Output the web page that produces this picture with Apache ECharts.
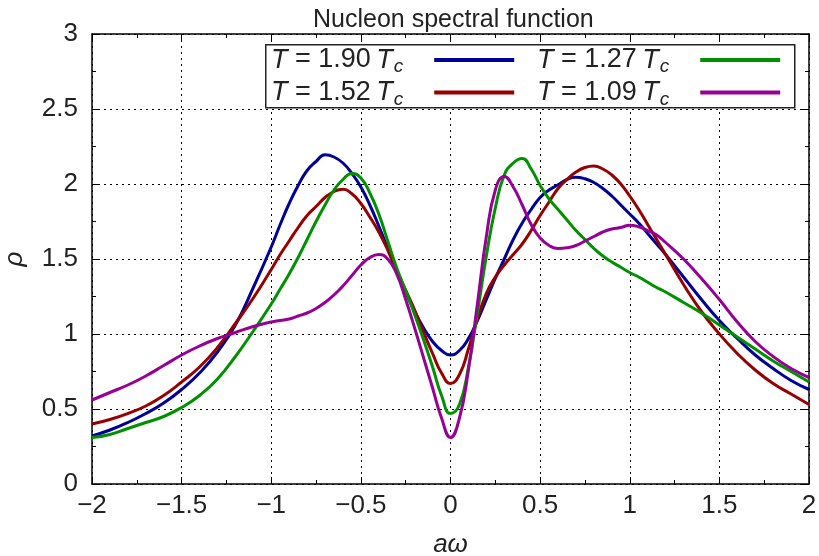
<!DOCTYPE html>
<html><head><meta charset="utf-8">
<script src="https://cdn.jsdelivr.net/npm/echarts@6/dist/echarts.min.js"></script>
<style>html,body{margin:0;padding:0;background:#fff}#c{width:819px;height:556px}</style>
</head><body><div id="c"></div>
<script>
const chartTitle = 'Nucleon spectral function';
const xName = 'aω';
const yName = 'ρ';
const temps = ['1.90', '1.52', '1.27', '1.09'];
const colors = ['#000096', '#960000', '#009000', '#960096'];
const aw = [-2, -1.9, -1.8, -1.7, -1.6, -1.5, -1.4, -1.3, -1.2, -1.1,
  -1.0, -0.95, -0.9, -0.85, -0.8, -0.75, -0.7, -0.65, -0.6, -0.55,
  -0.5, -0.45, -0.4, -0.35, -0.3, -0.25, -0.2, -0.15, -0.1, -0.05,
  0, 0.05, 0.1, 0.15, 0.2, 0.25, 0.3, 0.35, 0.4, 0.45,
  0.5, 0.55, 0.6, 0.65, 0.7, 0.75, 0.8, 0.85, 0.9, 0.95,
  1.0, 1.05, 1.1, 1.15, 1.2,
  1.3, 1.4, 1.5, 1.6, 1.7, 1.8, 1.9, 2.0];
const rho190 = [0.32, 0.36, 0.41, 0.47, 0.54, 0.63, 0.74, 0.88, 1.06, 1.31,
  1.58, 1.73, 1.87, 1.99, 2.09, 2.15, 2.195, 2.18, 2.14, 2.07,
  1.98, 1.86, 1.72, 1.57, 1.42, 1.28, 1.15, 1.04, 0.95, 0.89,
  0.86, 0.89, 0.97, 1.09, 1.23, 1.37, 1.5, 1.63, 1.74, 1.83,
  1.91, 1.96, 1.995, 2.03, 2.045, 2.035, 2.01, 1.97, 1.92, 1.86,
  1.8, 1.74, 1.67, 1.6, 1.53,
  1.38, 1.23, 1.09, 0.97, 0.86, 0.77, 0.69, 0.63];
const rho152 = [0.40, 0.43, 0.47, 0.52, 0.59, 0.68, 0.78, 0.91, 1.07, 1.24,
  1.43, 1.53, 1.62, 1.71, 1.79, 1.85, 1.91, 1.95, 1.965, 1.935,
  1.87, 1.78, 1.68, 1.56, 1.42, 1.29, 1.16, 1.01, 0.87, 0.74,
  0.67, 0.73, 0.9, 1.1, 1.27, 1.38, 1.46, 1.53, 1.6, 1.69,
  1.79, 1.88, 1.97, 2.03, 2.08, 2.11, 2.12, 2.1, 2.06, 2.0,
  1.92, 1.83, 1.73, 1.63, 1.53,
  1.33, 1.15, 1.0, 0.87, 0.76, 0.67, 0.6, 0.53];
const rho127 = [0.31, 0.33, 0.37, 0.41, 0.45, 0.51, 0.59, 0.7, 0.85, 1.02,
  1.2, 1.3, 1.4, 1.51, 1.63, 1.75, 1.86, 1.96, 2.03, 2.07,
  2.04, 1.94, 1.8, 1.62, 1.44, 1.29, 1.13, 0.96, 0.78, 0.59,
  0.47, 0.53, 0.78, 1.14, 1.52, 1.84, 2.06, 2.14, 2.17, 2.1,
  1.99, 1.9, 1.83, 1.76, 1.69, 1.63, 1.57, 1.52, 1.48, 1.445,
  1.41, 1.38, 1.345, 1.31, 1.28,
  1.21, 1.14, 1.06, 0.98, 0.9, 0.82, 0.75, 0.68];
const rho109 = [0.56, 0.61, 0.66, 0.72, 0.79, 0.86, 0.92, 0.97, 1.01, 1.05,
  1.08, 1.09, 1.1, 1.12, 1.14, 1.17, 1.21, 1.26, 1.32, 1.39,
  1.46, 1.51, 1.53, 1.5, 1.4, 1.23, 1.04, 0.84, 0.64, 0.44,
  0.31, 0.44, 0.76, 1.2, 1.65, 1.96, 2.05, 1.98, 1.86, 1.73,
  1.64, 1.59, 1.57, 1.575, 1.59, 1.62, 1.65, 1.68, 1.7, 1.71,
  1.725, 1.715, 1.69, 1.66, 1.61,
  1.5, 1.37, 1.23, 1.08, 0.95, 0.85, 0.77, 0.71];
const xTicks = {min: -2, max: 2, interval: 0.5};
const yTicks = {min: 0, max: 3, interval: 0.5};

const allRho = [rho190, rho152, rho127, rho109];
const FONT = 'Liberation Sans';
const TXT = '#222';
const fmtMinus = v => String(v).replace('-', '\u2212');

const gridLine = {show: true, lineStyle: {color: '#000', width: 1, type: [2, 4]}};
function xAxis(pos, labels) {
  return {
    type: 'value', position: pos, min: xTicks.min, max: xTicks.max, interval: xTicks.interval,
    axisLine: {show: true, onZero: false, lineStyle: {color: '#000', width: 1.5}},
    axisTick: {show: true, inside: true, length: 7, lineStyle: {color: '#000', width: 1}},
    minorTick: {show: true, splitNumber: 2, length: 4, lineStyle: {color: '#000', width: 1}},
    splitLine: labels ? gridLine : {show: false},
    axisLabel: {show: labels, fontFamily: FONT, fontSize: 26, color: TXT, margin: 9, formatter: fmtMinus},
    name: labels ? xName : '', nameLocation: 'middle', nameGap: 48,
    nameTextStyle: {fontFamily: FONT, fontSize: 26, fontStyle: 'italic', color: TXT}
  };
}
function yAxis(pos, labels) {
  return {
    type: 'value', position: pos, min: yTicks.min, max: yTicks.max, interval: yTicks.interval,
    axisLine: {show: true, onZero: false, lineStyle: {color: '#000', width: 1.5}},
    axisTick: {show: true, inside: true, length: 7, lineStyle: {color: '#000', width: 1}},
    minorTick: {show: true, splitNumber: 2, length: 4, lineStyle: {color: '#000', width: 1}},
    splitLine: labels ? gridLine : {show: false},
    axisLabel: {show: labels, fontFamily: FONT, fontSize: 26, color: TXT, margin: 14, formatter: fmtMinus},
    name: labels ? yName : '', nameLocation: 'middle', nameGap: 64, nameRotate: 90,
    nameTextStyle: {fontFamily: FONT, fontSize: 26, fontStyle: 'italic', color: TXT}
  };
}

const rich = {
  i: {fontFamily: FONT, fontSize: 27, fontStyle: 'italic', color: TXT},
  n: {fontFamily: FONT, fontSize: 27, color: TXT},
  s: {fontFamily: FONT, fontSize: 19, fontStyle: 'italic', color: TXT, padding: [14, 0, 0, 1]},
  g: {width: 26}
};
const legendFmt = name => '{i|T}{n| = ' + name + '\u2009}{i|T}{s|c}{g|}';
function legend(left, names) {
  return {
    data: names, orient: 'vertical', left: left, top: 45, padding: 0, itemGap: 1,
    align: 'right', icon: 'rect', itemWidth: 80, itemHeight: 4, selectedMode: false, z: 10,
    formatter: legendFmt,
    textStyle: {fontFamily: FONT, fontSize: 27, color: TXT, lineHeight: 30, rich: rich}
  };
}

const chart = echarts.init(document.getElementById('c'), null, {renderer: 'canvas'});
chart.setOption({
  animation: false,
  backgroundColor: '#fff',
  title: {text: chartTitle, left: 308, top: 3,
    textStyle: {fontFamily: FONT, fontSize: 25, fontWeight: 'normal', color: TXT}},
  grid: {left: 92, right: 10, top: 34, bottom: 72, containLabel: false, outerBoundsMode: 'none'},
  xAxis: [xAxis('bottom', true), xAxis('top', false)],
  yAxis: [yAxis('left', true), yAxis('right', false)],
  legend: [legend(271, [temps[0], temps[1]]), legend(537, [temps[2], temps[3]])],
  graphic: [{type: 'rect', left: 265, top: 44, z: 5,
    shape: {width: 529, height: 63}, style: {fill: '#fff', stroke: '#222', lineWidth: 1.5}}],
  series: temps.map((t, k) => ({
    name: t, type: 'line', smooth: 0.5, showSymbol: false, z: 3,
    color: colors[k], lineStyle: {width: 3, color: colors[k]},
    data: aw.map((x, j) => [x, allRho[k][j]])
  }))
});
</script></body></html>
